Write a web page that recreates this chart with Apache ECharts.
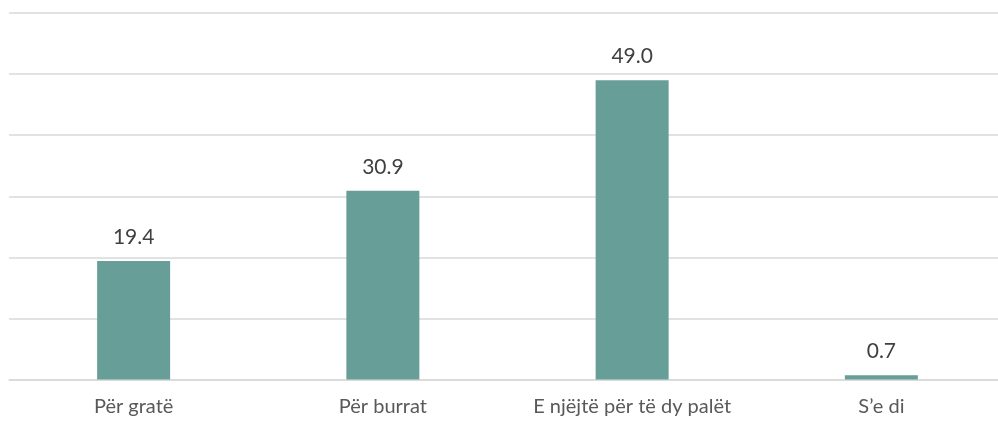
<!DOCTYPE html>
<html>
<head>
<meta charset="utf-8">
<script src="https://cdn.jsdelivr.net/npm/echarts@6/dist/echarts.min.js"></script>
<style>
html,body{margin:0;padding:0;background:#fff;overflow:hidden;width:998px;height:422px;}
#chart{width:1010px;height:422px;}
</style>
</head>
<body>
<div id="chart"></div>
<script>
const categories = ["Për gratë", "Për burrat", "E njëjtë për të dy palët", "S’e di"];
const values = [19.4, 30.9, 49.0, 0.7];
const yMin = 0, yMax = 60, yInterval = 10;

const chart = echarts.init(document.getElementById('chart'), null, {renderer: 'canvas'});
chart.setOption({
  animation: false,
  backgroundColor: '#ffffff',
  grid: {left: 9, right: 4, top: 13, height: 366.5, containLabel: false},
  xAxis: {
    type: 'category',
    data: categories,
    axisLine: {show: true, lineStyle: {color: '#d9d9d9', width: 1.5}},
    axisTick: {show: false},
    axisLabel: {color: '#595959', fontSize: 20, fontFamily: 'Lato, sans-serif', margin: 17, interval: 0}
  },
  yAxis: {
    type: 'value',
    min: yMin, max: yMax, interval: yInterval,
    axisLabel: {show: false},
    axisLine: {show: false},
    axisTick: {show: false},
    splitLine: {lineStyle: {color: '#d9d9d9', width: 1.5}}
  },
  series: [{
    type: 'bar',
    data: values,
    barWidth: 73,
    itemStyle: {color: '#679e97'},
    label: {
      show: true,
      position: 'top',
      distance: 13,
      color: '#404040',
      fontSize: 21,
      fontFamily: 'Lato, sans-serif',
      formatter: p => p.value.toFixed(1)
    }
  }]
});
</script>
</body>
</html>
